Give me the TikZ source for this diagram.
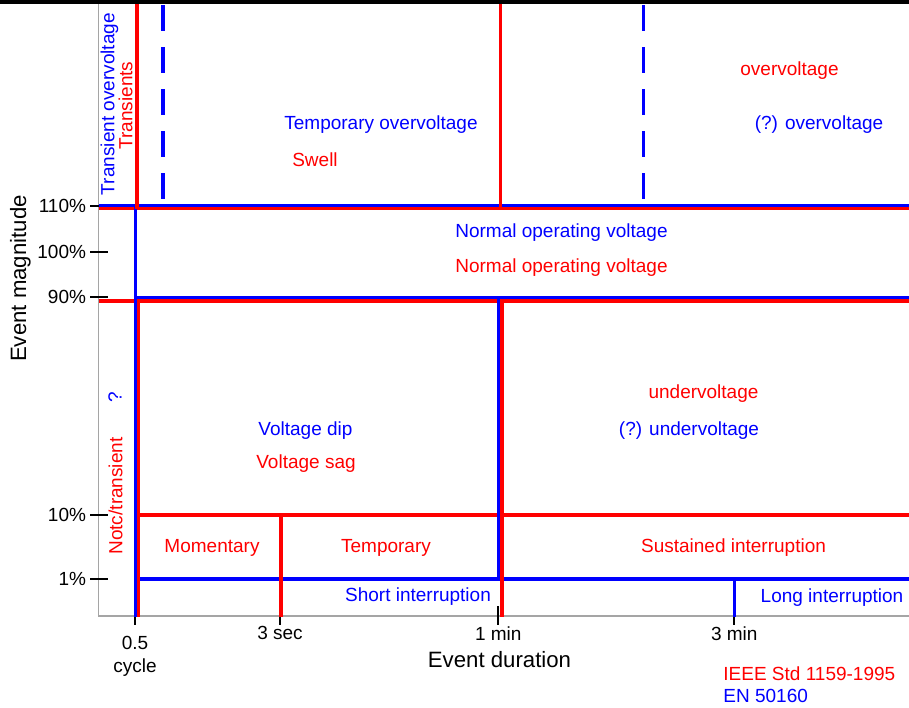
\documentclass[tikz,border=0pt]{standalone}
\usepackage{fontspec}
\setmainfont{Liberation Sans}

\definecolor{ieeered}{RGB}{255,0,0}
\definecolor{enblue}{RGB}{0,0,255}
\definecolor{axisgray}{RGB}{165,165,165}

\tikzset{
  redline/.style={draw=ieeered, line width=1.8pt},
  blueline/.style={draw=enblue, line width=1.8pt},
  bluedash/.style={blueline, dash pattern=on 13pt off 8pt},
  lbl/.style={inner sep=0pt, font=\fontsize{9.5}{11.5}\selectfont},
  redlbl/.style={lbl, text=ieeered},
  bluelbl/.style={lbl, text=enblue},
  title/.style={inner sep=0pt, font=\fontsize{11.1}{13}\selectfont}
}

\begin{document}
\begin{tikzpicture}[x=0.5pt, y=-0.5pt]
    \useasboundingbox (0,0) rectangle (909,707);

    % Black strip along the top
    \fill[black] (0,0) rectangle (909,4);

    % Axes
    \draw[axisgray, line width=0.8pt] (98.5,4) -- (98.5,615.8) -- (909,615.8);

    % Tick marks on magnitude axis
    \foreach \y/\lab/\nm in {206/110\%/a, 252/100\%/b, 297/90\%/c, 515/10\%/d, 579/1\%/e}
    \draw[line width=1pt] (90,\y) -- (108,\y)
      node[lbl, anchor=east] (ylab\nm) at (87,\y) {\lab};

    % Tick marks on duration axis
    \foreach \x in {135, 280, 498.3, 734.3}
    \draw[line width=1pt] (\x,606) -- (\x,625);

    % Duration labels below axis
    \node[lbl, anchor=north, align=center] (xhalf) at (135,636) {0.5\\cycle};
    \node[lbl, anchor=north] (xsec) at (280,626) {3 sec};
    \node[lbl, anchor=north] (xmin) at (498.3,626) {1 min};
    \node[lbl, anchor=north] (xthree) at (734.3,626) {3 min};

    % Axis titles
    \node[title] (xtitle) at (499.5,660) {Event duration};
    \node[title, rotate=90] (ytitle) at (20.5,278.5) {Event magnitude};

    % Horizontal limits
    \draw[redline] (98.5,208.5) -- (909,208.5);
    \draw[blueline] (98.5,205.3) -- (909,205.3);
    \draw[redline] (98.5,300.7) -- (909,300.7);
    \draw[blueline] (135.6,297.3) -- (909,297.3);
    \draw[redline] (138.3,515) -- (909,515);
    \draw[blueline] (135.6,579.2) -- (909,579.2);

    % Vertical limits
    \draw[blueline] (135.6,205.3) -- (135.6,617);
    \draw[redline] (137,4) -- (137,208.5);
    \draw[redline] (138.3,300.7) -- (138.3,617);
    \draw[redline] (500.3,4) -- (500.3,208.5);
    \draw[blueline] (498.3,297.3) -- (498.3,579.2);
    \draw[redline] (501.8,300.7) -- (501.8,617);
    \draw[redline] (280.7,515) -- (280.7,617);
    \draw[blueline] (734.3,579.2) -- (734.3,617);
    \draw[bluedash] (162.7,5) -- (162.7,200);
    \draw[bluedash] (643.3,5) -- (643.3,200);

    % Above 110%
    \node[bluelbl, rotate=90] (transover) at (109.5,104) {Transient overvoltage};
    \node[redlbl, rotate=90] (transients) at (125.5,105.5) {Transients};
    \node[bluelbl] (tempover) at (381,124.5) {Temporary overvoltage};
    \node[redlbl] (swell) at (315,160) {Swell};
    \node[redlbl] (overred) at (789.5,70.5) {overvoltage};
    \node[bluelbl] (overblue) at (819,125) {(?) overvoltage};

    % Between 90% and 110%
    \node[bluelbl] (normblue) at (561.5,232.5) {Normal operating voltage};
    \node[redlbl] (normred) at (561.5,267.5) {Normal operating voltage};

    % Below 90%
    \node[bluelbl, rotate=90] (query) at (115,397.5) {?};
    \node[redlbl, rotate=90] (notch) at (115.5,496) {Notc/transient};
    \node[bluelbl] (dip) at (305.5,431) {Voltage dip};
    \node[redlbl] (sag) at (306,464) {Voltage sag};
    \node[redlbl] (underred) at (703.5,394) {undervoltage};
    \node[bluelbl] (underblue) at (689,431) {(?) undervoltage};

    % Interruptions
    \node[redlbl] (momentary) at (212,547.5) {Momentary};
    \node[redlbl] (temporary) at (386,547.5) {Temporary};
    \node[redlbl] (sustained) at (733.5,548) {Sustained interruption};
    \node[bluelbl] (shortint) at (418,597) {Short interruption};
    \node[bluelbl] (longint) at (832,598) {Long interruption};

    % Standards
    \node[redlbl, anchor=west] (ieee) at (723,673.5) {IEEE Std 1159-1995};
    \node[bluelbl, anchor=west] (en) at (723,695.5) {EN 50160};

\end{tikzpicture}
\end{document}
